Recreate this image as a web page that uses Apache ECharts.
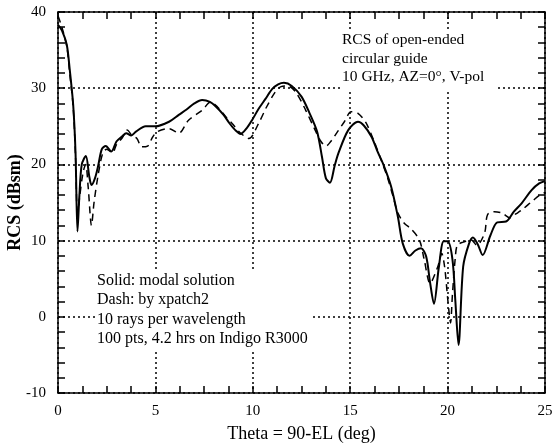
<!DOCTYPE html>
<html>
<head>
<meta charset="utf-8">
<script src="https://cdn.jsdelivr.net/npm/echarts@6/dist/echarts.min.js"></script>
<style>
html,body{margin:0;padding:0;background:#fff;}
#chart{width:555px;height:446px;}
</style>
</head>
<body>
<div id="chart"></div>
<script>
// Solid: modal solution
var solidX = [0,0.2,0.45,0.6,0.78,0.9,1.0,1.1,1.22,1.43,1.6,1.72,1.9,2.06,2.25,2.45,2.74,3.0,3.3,3.5,3.76,4.0,4.5,5.0,5.7,6.2,6.6,7.0,7.4,7.8,8.1,8.5,8.8,9.1,9.37,9.7,9.96,10.3,10.65,11.0,11.3,11.6,12.0,12.5,12.9,13.3,13.55,13.75,13.96,14.2,14.4,14.9,15.4,15.7,16.1,16.4,16.7,17.1,17.45,17.7,18.05,18.35,18.64,18.9,19.1,19.3,19.55,19.8,20.0,20.25,20.4,20.56,20.8,21.1,21.3,21.55,21.8,22.2,22.55,23.0,23.4,23.8,24.3,24.7,25];
var solidY = [38.3,37.6,35.7,32.5,27.8,21.5,11.2,16,20,21.1,18.5,17.3,18.2,19.8,22,22.4,21.7,23,23.7,24.1,23.8,24.3,25,25.0,25.6,26.5,27.2,28,28.45,28.2,27.6,26.5,25.4,24.5,24.0,24.8,25.8,27.3,28.6,29.9,30.5,30.7,30.3,28.9,26.8,24.3,21,18.2,17.6,19.8,21.5,24.5,25.6,25.1,23.6,21.7,20,17.1,13.1,9.6,8.0,8.7,9.0,7.9,4.5,1.7,6.5,9.9,9.9,7.5,2,-3.7,6.6,9.6,10.4,9.5,8.1,10.7,12.4,12.5,13.8,14.9,16.6,17.5,17.8];
// Dash: by xpatch2
var dashX = [0,0.2,0.45,0.6,0.78,0.9,1.0,1.1,1.29,1.42,1.55,1.72,1.85,2.06,2.3,2.5,2.8,3.0,3.3,3.55,3.8,4.05,4.3,4.6,4.86,5.1,5.7,6.2,6.7,7.4,7.84,8.2,8.6,9.0,9.29,9.8,10.3,10.7,11.15,11.45,11.8,12.2,12.7,13.2,13.5,13.75,14.0,14.3,14.7,15.05,15.4,15.8,16.2,16.6,16.9,17.2,17.45,17.8,18.1,18.55,18.8,19.1,19.5,19.7,19.85,20.0,20.1,20.15,20.25,20.4,20.5,20.8,21.2,21.5,21.9,22.05,22.4,22.8,23.2,23.5,23.8,24.4,24.8,25];
var dashY = [39.5,38,35.5,32,27.5,21,13,15.5,19,20,17,12,15,18.6,21.5,22,21.5,22.6,23.5,24.5,23.8,23.4,22.3,22.4,23.6,24.3,24.7,24.1,25.8,27.1,28.2,27.5,26.3,25.2,24.3,23.4,25.4,27.5,29.5,30.2,30.3,29.5,27.2,24.5,23.0,22.4,23.0,24.1,25.6,26.9,26.7,25.5,23.2,20.5,18.4,15.8,13.6,12.2,11.6,10.1,7.5,4.4,6.6,8.3,6.5,2.5,0,-0.8,3,7.9,9.4,9.8,10.1,9.4,11.0,13.4,13.8,13.6,13.0,13.5,14.0,15.3,16.1,16.3];
var xTicks = [0,5,10,15,20,25];
var yTicks = [-10,0,10,20,30,40];
var noteTop = ['RCS of open-ended','circular guide','10 GHz, AZ=0\u00b0, V-pol'];
var noteBottom = ['Solid: modal solution','Dash: by xpatch2','10 rays per wavelength','100 pts, 4.2 hrs on Indigo R3000'];

function pairs(xs, ys){ return xs.map(function(x,i){ return [x, ys[i]]; }); }

var FONT = '"Liberation Serif", "Times New Roman", serif';
var chart = echarts.init(document.getElementById('chart'), null, {renderer:'canvas'});

var frameAxis = function(pos, isX){
  var a = {
    type:'value', position: pos,
    min: isX ? xTicks[0] : yTicks[0],
    max: isX ? xTicks[xTicks.length-1] : yTicks[yTicks.length-1],
    interval: isX ? 5 : 10,
    axisLine:{show:true, onZero:false, lineStyle:{color:'#000', width:1.5}},
    axisTick:{show:true, inside:true, length:7, lineStyle:{color:'#000', width:1.5}},
    minorTick:{show:true, splitNumber: isX ? 4 : 5, length:7, lineStyle:{color:'#000', width:1.5}},
    axisLabel:{show:false},
    splitLine:{show:false}
  };
  return a;
};

var xBottom = frameAxis('bottom', true);
xBottom.axisLabel = {show:true, color:'#000', fontFamily:FONT, fontSize:15, margin:11};
xBottom.splitLine = {show:true, lineStyle:{color:'#000', type:[2,3], width:1.5}};
xBottom.name = 'Theta = 90-EL (deg)';
xBottom.nameLocation = 'middle';
xBottom.nameGap = 32;
xBottom.nameMoveOverlap = false;
xBottom.nameTextStyle = {color:'#000', fontFamily:FONT, fontSize:18};

var yLeft = frameAxis('left', false);
yLeft.axisLabel = {show:true, color:'#000', fontFamily:FONT, fontSize:15, margin:12};
yLeft.splitLine = {show:true, lineStyle:{color:'#000', type:[2,3], width:1.5}};
yLeft.name = 'RCS (dBsm)';
yLeft.nameLocation = 'middle';
yLeft.nameGap = 34;
yLeft.nameMoveOverlap = false;
yLeft.nameTextStyle = {color:'#000', fontFamily:FONT, fontSize:18, fontWeight:'bold'};

var option = {
  backgroundColor:'#fff',
  animation:false,
  grid:{left:58, right:10, top:12, bottom:53, containLabel:false, outerBoundsMode:'none'},
  xAxis:[xBottom, frameAxis('top', true)],
  yAxis:[yLeft, frameAxis('right', false)],
  series:[
    {type:'line', name:'Solid', xAxisIndex:0, yAxisIndex:0, data:pairs(solidX, solidY), showSymbol:false, smooth:0.3,
     lineStyle:{color:'#000', width:2}, z:5},
    {type:'line', name:'Dash', xAxisIndex:0, yAxisIndex:0, data:pairs(dashX, dashY), showSymbol:false, smooth:0.3,
     lineStyle:{color:'#000', width:1.5, type:[7,5]}, z:4}
  ],
  graphic:[
    {type:'rect', left:340, top:31, shape:{width:157, height:59}, style:{fill:'#fff'}, z:10},
    {type:'text', left:342, top:31, z:11, style:{text:noteTop.join('\n'), font:'15.5px '+FONT, lineHeight:18.5, fill:'#000'}},
    {type:'rect', left:95, top:271, shape:{width:215, height:80}, style:{fill:'#fff'}, z:10},
    {type:'text', left:97, top:271, z:11, style:{text:noteBottom.join('\n'), font:'16px '+FONT, lineHeight:19.5, fill:'#000'}}
  ]
};
chart.setOption(option);
</script>
</body>
</html>
